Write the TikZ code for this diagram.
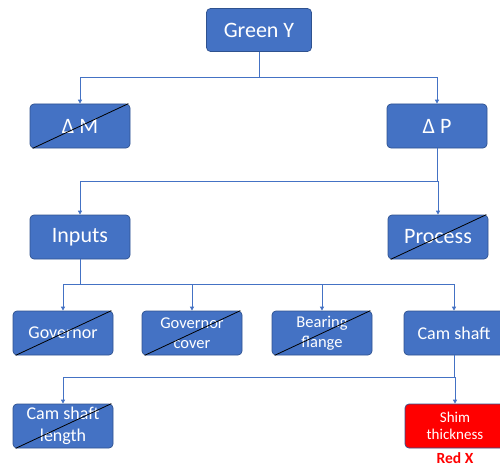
\documentclass[tikz,border=0pt]{standalone}
\usepackage{fontspec}
\setmainfont{Carlito}
\usetikzlibrary{arrows.meta}
\definecolor{boxblue}{HTML}{4472C4}
\definecolor{boxedge}{HTML}{2F528F}
\definecolor{redx}{HTML}{FF0000}
\tikzset{
  box/.style={draw=boxedge, line width=0.7pt, fill=boxblue, rounded corners=4pt,
    text=white, align=center, minimum width=100pt, minimum height=44pt, inner sep=1pt},
  big/.style={font=\fontsize{22}{24}\selectfont},
  mid/.style={font=\fontsize{18}{22}\selectfont},
  two/.style={font=\fontsize{16.5}{20}\selectfont},
  conn/.style={draw=boxblue, line width=0.8pt, -{Triangle[length=4pt,width=4pt]}},
  strike/.style={draw=black, line width=0.8pt}
}
\begin{document}
\begin{tikzpicture}[x=1pt,y=-1pt]
\useasboundingbox (0,0) rectangle (500,468);
% nodes
\node[box,big,minimum width=105pt,minimum height=43pt] (green) at (259,30) {Green Y};
\node[box,big] (dm) at (80,126) {Δ M};
\node[box,big] (dp) at (437,126) {Δ P};
\node[box,big] (inputs) at (80,237) {Inputs};
\node[box,big] (process) at (438,237) {Process};
\node[box,mid] (gov) at (63,333) {Governor};
\node[box,two] (govc) at (192,333) {Governor\\cover};
\node[box,two] (bear) at (322,333) {Bearing\\flange};
\node[box,mid] (cam) at (454,333) {Cam shaft};
\node[box,mid] (caml) at (63,426) {Cam shaft\\length};
\node[box,fill=redx,font=\fontsize{15}{17}\selectfont] (shim) at (455,426) {Shim\\thickness};
\node[text=redx,font=\fontsize{15.5}{17}\selectfont\bfseries,inner sep=0pt] (redx) at (455,458) {Red X};
% bus coordinates
\coordinate (b1) at (0,77);
\coordinate (b2) at (0,181);
\coordinate (b3) at (0,284);
\coordinate (b4) at (0,377);
% connectors
\draw[conn] (green.south) -- (green.south |- b1) -| (dm.north);
\draw[conn] (green.south) -- (green.south |- b1) -| (dp.north);
\draw[conn] (dp.south) -- (dp.south |- b2) -| (inputs.north);
\draw[conn] (dp.south) -- (dp.south |- b2) -| (process.north);
\draw[conn] (inputs.south) -- (inputs.south |- b3) -| (gov.north);
\draw[conn] (inputs.south) -- (inputs.south |- b3) -| (govc.north);
\draw[conn] (inputs.south) -- (inputs.south |- b3) -| (bear.north);
\draw[conn] (inputs.south) -- (inputs.south |- b3) -| (cam.north);
\draw[conn] (cam.south) -- (cam.south |- b4) -| (caml.north);
\draw[conn] (cam.south) -- (cam.south |- b4) -| (shim.north);
% strike-through lines
\foreach \n in {dm,process,gov,govc,bear,caml}{
  \draw[strike] ([xshift=3pt]\n.south west) -- ([xshift=-2pt]\n.north east);
}
\end{tikzpicture}
\end{document}
